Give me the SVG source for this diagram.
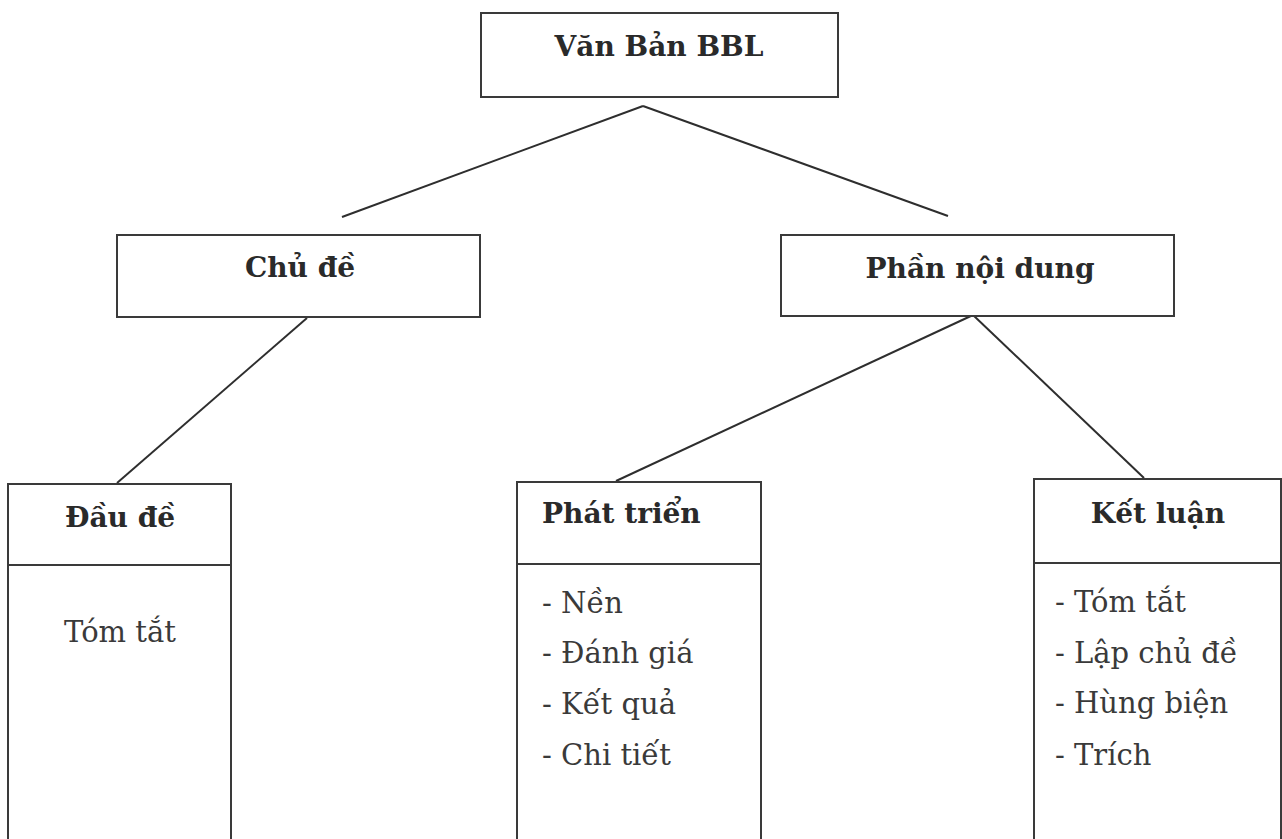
<svg xmlns="http://www.w3.org/2000/svg" width="1282" height="839" viewBox="0 0 1282 839">
<style>
.box{fill:#fff;stroke:#3a3a3a;stroke-width:2}
.div{stroke:#3a3a3a;stroke-width:2}
.conn{stroke:#2e2e2e;stroke-width:2;fill:none}
.h{font-family:"DejaVu Serif","Liberation Serif",serif;font-weight:bold;font-size:28px;fill:#2a2a2a}
.t{font-family:"DejaVu Serif","Liberation Serif",serif;font-size:29px;fill:#3a3a3a}
</style>
<rect width="1282" height="839" fill="#fff"/>
<g id="connectors">
<line class="conn" x1="643" y1="106" x2="342" y2="217"/>
<line class="conn" x1="643" y1="106" x2="948" y2="216"/>
<line class="conn" x1="307" y1="318" x2="117" y2="483"/>
<line class="conn" x1="973" y1="315" x2="616" y2="481"/>
<line class="conn" x1="973" y1="315" x2="1144" y2="478"/>
</g>
<g id="n-vanban">
<rect class="box" x="481" y="13" width="357" height="84"/>
<text class="h" x="659" y="56" text-anchor="middle">Văn Bản BBL</text>
</g>
<g id="n-chude">
<rect class="box" x="117" y="235" width="363" height="82"/>
<text class="h" x="300" y="277" text-anchor="middle">Chủ đề</text>
</g>
<g id="n-phannoidung">
<rect class="box" x="781" y="235" width="393" height="81"/>
<text class="h" x="980" y="278" text-anchor="middle">Phần nội dung</text>
</g>
<g id="n-daude">
<rect class="box" x="8" y="484" width="223" height="370"/>
<line class="div" x1="8" y1="565" x2="231" y2="565"/>
<text class="h" x="120" y="527" text-anchor="middle">Đầu đề</text>
<text class="t" x="120" y="642" text-anchor="middle">Tóm tắt</text>
</g>
<g id="n-phattrien">
<rect class="box" x="517" y="482" width="244" height="372"/>
<line class="div" x1="517" y1="564" x2="761" y2="564"/>
<text class="h" x="542" y="523">Phát triển</text>
<text class="t" x="542" y="613">- Nền</text>
<text class="t" x="542" y="663">- Đánh giá</text>
<text class="t" x="542" y="714">- Kết quả</text>
<text class="t" x="542" y="765">- Chi tiết</text>
</g>
<g id="n-ketluan">
<rect class="box" x="1034" y="479" width="247" height="375"/>
<line class="div" x1="1034" y1="563" x2="1281" y2="563"/>
<text class="h" x="1158" y="523" text-anchor="middle">Kết luận</text>
<text class="t" x="1055" y="612">- Tóm tắt</text>
<text class="t" x="1055" y="663">- Lập chủ đề</text>
<text class="t" x="1055" y="713">- Hùng biện</text>
<text class="t" x="1055" y="765">- Trích</text>
</g>
</svg>
